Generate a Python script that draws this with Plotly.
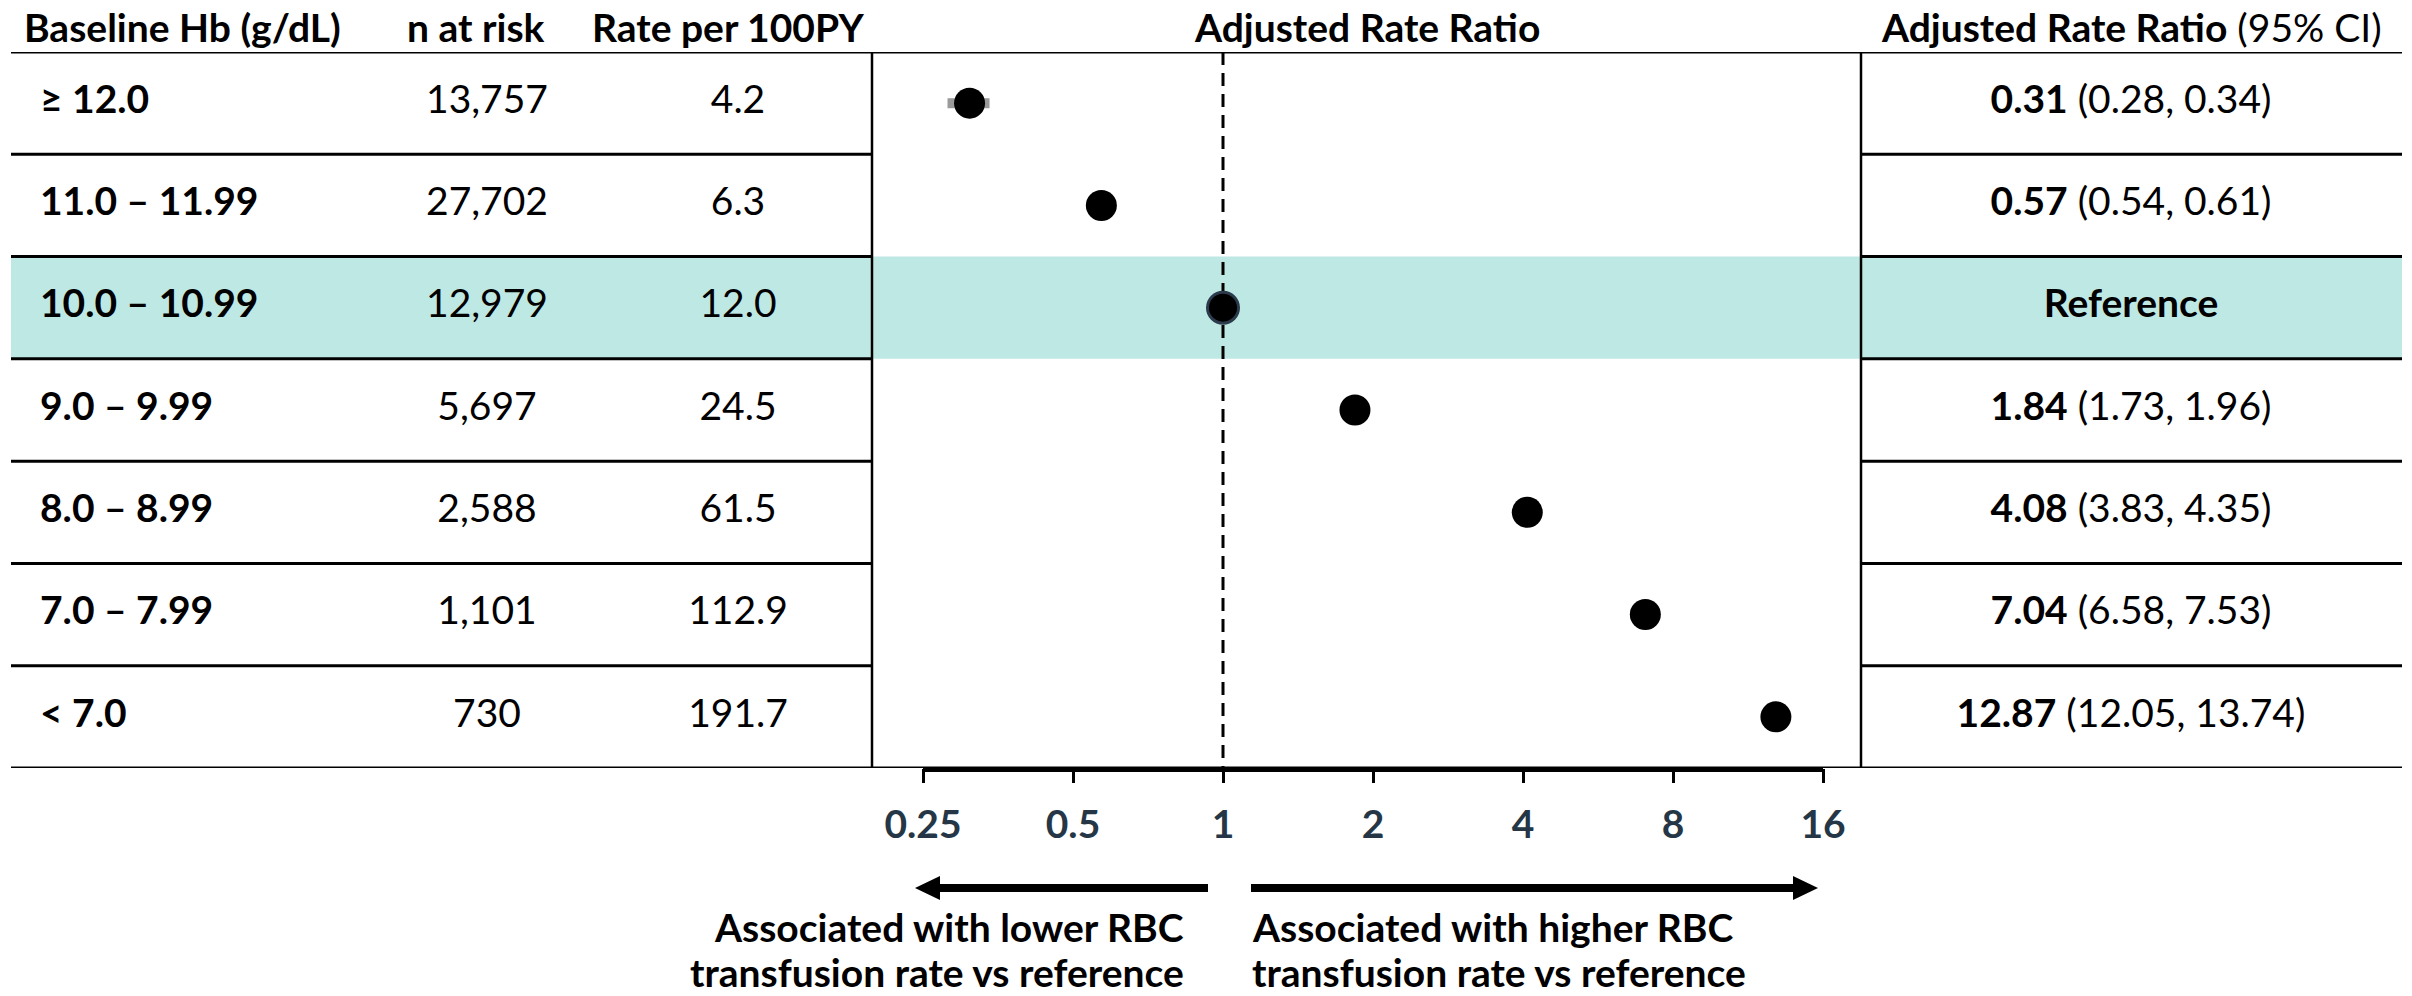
import math
import plotly.graph_objects as go

# ---- data -----------------------------------------------------------------
hb_groups = ["≥ 12.0", "11.0 – 11.99", "10.0 – 10.99", "9.0 – 9.99",
             "8.0 – 8.99", "7.0 – 7.99", "< 7.0"]
n_at_risk = [13757, 27702, 12979, 5697, 2588, 1101, 730]
rate_per_100py = [4.2, 6.3, 12.0, 24.5, 61.5, 112.9, 191.7]
rate_ratio = [0.31, 0.57, 1.00, 1.84, 4.08, 7.04, 12.87]
ci_lower = [0.28, 0.54, None, 1.73, 3.83, 6.58, 12.05]
ci_upper = [0.34, 0.61, None, 1.96, 4.35, 7.53, 13.74]
reference_row = 2

tick_values = [0.25, 0.5, 1, 2, 4, 8, 16]
tick_labels = ["0.25", "0.5", "1", "2", "4", "8", "16"]

headers = ["Baseline Hb (g/dL)", "n at risk", "Rate per 100PY",
           "Adjusted Rate Ratio", "Adjusted Rate Ratio"]
ci_header_suffix = " (95% CI)"
lower_note = ["Associated with lower RBC", "transfusion rate vs reference"]
higher_note = ["Associated with higher RBC", "transfusion rate vs reference"]

# ---- layout geometry (pixels) ---------------------------------------------
W, H = 2412, 996
TOP, BOTTOM = 52, 768            # table top / bottom rules
TABLE_L, TABLE_R = 11, 2402
PLOT_L, PLOT_R = 872, 1861       # forest panel frame
FONT = "Lato"
FS = 39
INK = "#000000"
TEAL = "#bee8e3"
TICK_INK = "#253746"


def px(x):
    return x / W


def py(y):
    return 1 - y / H


rows = list(range(len(hb_groups)))
n_rows = len(rows)

# log2 scale: 150 px per doubling, ratio 1 at x=1223
x_range = [math.log10(2 ** ((PLOT_L - 1223) / 150)),
           math.log10(2 ** ((PLOT_R - 1223) / 150))]

fig = go.Figure()

# vertical reference line at ratio 1
fig.add_trace(go.Scatter(
    x=[1, 1], y=[-0.5, n_rows - 0.5], mode="lines",
    line=dict(color=INK, width=3, dash="13px,8px"),
    hoverinfo="skip", showlegend=False, xaxis="x", yaxis="y"))

# point estimates with 95% CI
err_plus = [(u - r) if u is not None else 0 for r, u in zip(rate_ratio, ci_upper)]
err_minus = [(r - l) if l is not None else 0 for r, l in zip(rate_ratio, ci_lower)]
fig.add_trace(go.Scatter(
    x=rate_ratio, y=rows, mode="markers",
    marker=dict(size=31, color=INK,
                line=dict(color="#2b3b4c",
                          width=[3 if i == reference_row else 0 for i in rows])),
    error_x=dict(type="data", symmetric=False, array=err_plus,
                 arrayminus=err_minus, color="#9a9a9a", thickness=10, width=0),
    showlegend=False, xaxis="x", yaxis="y", cliponaxis=False))

# table columns
text_font = dict(family=FONT, size=FS, color=INK)
fig.add_trace(go.Scatter(
    x=[40] * n_rows, y=rows, mode="text",
    text=[f"<b>{g}</b>" for g in hb_groups], textposition="middle right",
    textfont=text_font, showlegend=False, xaxis="x2", yaxis="y", cliponaxis=False))
fig.add_trace(go.Scatter(
    x=[487] * n_rows, y=rows, mode="text",
    text=[f"{n:,}" for n in n_at_risk], textposition="middle center",
    textfont=text_font, showlegend=False, xaxis="x2", yaxis="y", cliponaxis=False))
fig.add_trace(go.Scatter(
    x=[738] * n_rows, y=rows, mode="text",
    text=[f"{v:.1f}" for v in rate_per_100py], textposition="middle center",
    textfont=text_font, showlegend=False, xaxis="x2", yaxis="y", cliponaxis=False))

ci_text = []
for i, (r, l, u) in enumerate(zip(rate_ratio, ci_lower, ci_upper)):
    if i == reference_row:
        ci_text.append("<b>Reference</b>")
    else:
        ci_text.append(f"<b>{r:.2f}</b> ({l:.2f}, {u:.2f})")
fig.add_trace(go.Scatter(
    x=[2131] * n_rows, y=rows, mode="text",
    text=ci_text, textposition="middle center",
    textfont=text_font, showlegend=False, xaxis="x2", yaxis="y", cliponaxis=False))

# ---- shapes ----------------------------------------------------------------
shapes = []
# highlighted reference row
shapes.append(dict(type="rect", xref="paper", yref="y",
                   x0=px(TABLE_L), x1=px(TABLE_R),
                   y0=reference_row - 0.5, y1=reference_row + 0.5,
                   fillcolor=TEAL, line=dict(width=0), layer="below"))
# top and bottom rules
for yb in (-0.5, n_rows - 0.5):
    shapes.append(dict(type="line", xref="paper", yref="y",
                       x0=px(TABLE_L), x1=px(TABLE_R), y0=yb, y1=yb,
                       line=dict(color=INK, width=3)))
# row separators (left and right tables only)
for k in range(n_rows - 1):
    yb = k + 0.5
    for xa, xb in ((TABLE_L, PLOT_L), (PLOT_R, TABLE_R)):
        shapes.append(dict(type="line", xref="paper", yref="y",
                           x0=px(xa), x1=px(xb), y0=yb, y1=yb,
                           line=dict(color=INK, width=3)))
# forest panel frame sides
for xv in (PLOT_L, PLOT_R):
    shapes.append(dict(type="line", xref="paper", yref="y",
                       x0=px(xv), x1=px(xv), y0=-0.5, y1=n_rows - 0.5,
                       line=dict(color=INK, width=2.5)))
# axis baseline spanning the tick range
shapes.append(dict(type="line", xref="x", yref="paper",
                   x0=tick_values[0], x1=tick_values[-1],
                   y0=py(770), y1=py(770), line=dict(color=INK, width=4)))

# direction arrows
ARROW_Y = 888
HEAD_L, HEAD_H = 25, 12
for tail, tip in ((1208, 915), (1251, 1818)):
    d = 1 if tip > tail else -1
    base = tip - d * HEAD_L
    shapes.append(dict(type="line", xref="paper", yref="paper",
                       x0=px(tail), x1=px(base), y0=py(ARROW_Y), y1=py(ARROW_Y),
                       line=dict(color=INK, width=8)))
    shapes.append(dict(type="path", xref="paper", yref="paper",
                       path=(f"M {px(tip)} {py(ARROW_Y)} "
                             f"L {px(base)} {py(ARROW_Y - HEAD_H)} "
                             f"L {px(base)} {py(ARROW_Y + HEAD_H)} Z"),
                       fillcolor=INK, line=dict(width=0)))

# ---- annotations -------------------------------------------------------------
ann = []
HEAD_Y = py(27)
ann.append(dict(text=f"<b>{headers[0]}</b>", x=px(22), xanchor="left"))
ann.append(dict(text=f"<b>{headers[1]}</b>", x=px(476), xanchor="center"))
ann.append(dict(text=f"<b>{headers[2]}</b>", x=px(728), xanchor="center"))
ann.append(dict(text=f"<b>{headers[3]}</b>", x=px((PLOT_L + PLOT_R) / 2), xanchor="center"))
ann.append(dict(text=f"<b>{headers[4]}</b>{ci_header_suffix}", x=px(2131), xanchor="center"))
for a in ann:
    a.update(xref="paper", yref="paper", y=HEAD_Y, yanchor="middle",
             showarrow=False, font=dict(family=FONT, size=FS, color=INK))

# explanatory notes under the arrows, one annotation per line
for line_y, left_line, right_line in zip((927, 972), lower_note, higher_note):
    ann.append(dict(text=f"<b>{left_line}</b>", x=px(1186), y=py(line_y),
                    xanchor="right", yanchor="middle", align="right",
                    xref="paper", yref="paper", showarrow=False,
                    font=dict(family=FONT, size=FS, color=INK)))
    ann.append(dict(text=f"<b>{right_line}</b>", x=px(1250), y=py(line_y),
                    xanchor="left", yanchor="middle", align="left",
                    xref="paper", yref="paper", showarrow=False,
                    font=dict(family=FONT, size=FS, color=INK)))

fig.update_layout(
    width=W, height=H,
    margin=dict(l=0, r=0, t=0, b=0),
    paper_bgcolor="white", plot_bgcolor="rgba(0,0,0,0)",
    showlegend=False,
    xaxis=dict(type="log", domain=[px(PLOT_L), px(PLOT_R)], range=x_range,
               anchor="y", showgrid=False, zeroline=False, showline=False,
               tickvals=tick_values, ticktext=[f"<b>{t}</b>" for t in tick_labels],
               ticks="outside", ticklen=14, tickwidth=2.5, tickcolor=INK,
               tickfont=dict(family=FONT, size=FS, color=TICK_INK),
               ticklabelstandoff=8, fixedrange=True),
    xaxis2=dict(domain=[0, 1], range=[0, W], anchor="y", visible=False,
                showgrid=False, zeroline=False, fixedrange=True),
    yaxis=dict(domain=[py(BOTTOM), py(TOP)], range=[n_rows - 0.5, -0.5],
               anchor="x", visible=False, showgrid=False, zeroline=False,
               fixedrange=True),
    shapes=shapes,
    annotations=ann,
)

fig.write_html("out.html")
